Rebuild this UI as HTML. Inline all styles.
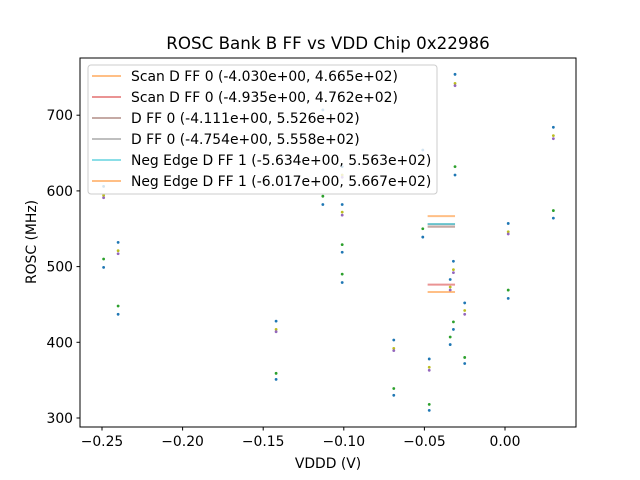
<!DOCTYPE html>
<html><head><meta charset="utf-8"><style>
body{margin:0;background:#fff;}
svg{display:block;font-family:"DejaVu Sans","Liberation Sans",sans-serif;}
</style></head><body>
<svg id="chart" width="640" height="480" xmlns="http://www.w3.org/2000/svg">
<rect width="640" height="480" fill="#fff"/>
<text x="328" y="49" font-size="16.7" text-anchor="middle">ROSC Bank B FF vs VDD Chip 0x22986</text>
<g id="plot"></g>
<rect x="80" y="58" width="496" height="369" fill="none" stroke="#000" stroke-width="1"/>
<g id="ticks"></g>
<text x="328" y="468" font-size="13.9" text-anchor="middle">VDDD (V)</text>
<text transform="translate(36,242) rotate(-90)" font-size="13.9" text-anchor="middle">ROSC (MHz)</text>
<g id="legend"></g>
</svg>
<script>
const xVals   = [-0.249,-0.240,-0.142,-0.113,-0.101,-0.101,-0.069,-0.051,-0.047,-0.034,-0.031,-0.032,-0.025,0.002,0.030];
const blueHi  = [606,532,428,707,632,582,403,654,378,483,754,507,452,557,684];
const oliveY  = [594,521,417,697,621,572,392,643,367,473,742,496,442,546,673];
const purpleY = [591,517,414,694,618,568,389,640,363,469,739,492,437,543,669];
const greenY  = [510,448,359,593,529,490,339,550,318,407,632,427,380,469,574];
const blueLo  = [499,437,351,582,519,479,330,539,310,397,621,417,372,458,564];
const fitLabels = ["Scan D FF 0 (-4.030e+00, 4.665e+02)","Scan D FF 0 (-4.935e+00, 4.762e+02)","D FF 0 (-4.111e+00, 5.526e+02)","D FF 0 (-4.754e+00, 5.558e+02)","Neg Edge D FF 1 (-5.634e+00, 5.563e+02)","Neg Edge D FF 1 (-6.017e+00, 5.667e+02)"];
const fitValues = [466.5,476.2,552.6,555.8,556.3,566.7];
const fitColors = ["#ff7f0e","#d62728","#8c564b","#7f7f7f","#17becf","#ff7f0e"];
const fitRange = [-0.048,-0.031];
const xTicks = [-0.25,-0.20,-0.15,-0.10,-0.05,0.00];
const xTickLabels = ["−0.25","−0.20","−0.15","−0.10","−0.05","0.00"];
const yTicks = [300,400,500,600,700];

const NS="http://www.w3.org/2000/svg";
const X=v=>505+v*1612;
const Y=v=>418-(v-300)*0.757;
function mk(tag,attrs,parent){const e=document.createElementNS(NS,tag);for(const k in attrs)e.setAttribute(k,attrs[k]);parent.appendChild(e);return e;}
const plot=document.getElementById('plot'),ticks=document.getElementById('ticks'),leg=document.getElementById('legend');

const series=[[blueHi,"#1f77b4","blue-hi"],[oliveY,"#bcbd22","olive"],[purpleY,"#9467bd","purple"],[greenY,"#2ca02c","green"],[blueLo,"#1f77b4","blue-lo"]];
series.forEach(([arr,col,nm])=>{
  arr.forEach((v,i)=>{
    if(v==null)return;
    const c=mk('circle',{cx:X(xVals[i]),cy:Y(v),r:1.4,fill:col},plot);
    
    
  });
});
fitValues.forEach((v,i)=>{
  const l=mk('line',{x1:X(fitRange[0]),x2:X(fitRange[1]),y1:Y(v),y2:Y(v),stroke:fitColors[i],'stroke-opacity':0.5,'stroke-width':2},plot);
  
  
});
xTicks.forEach((t,i)=>{
  const x=X(t);
  const tk=mk('line',{x1:x,x2:x,y1:427,y2:430.5,stroke:'#000'},ticks);
  
  
  const tx=mk('text',{x:x,y:446,'font-size':13.9,'text-anchor':'middle'},ticks);
  tx.textContent=xTickLabels[i];
  
  
});
yTicks.forEach(t=>{
  const y=Y(t);
  const tk=mk('line',{x1:76.5,x2:80,y1:y,y2:y,stroke:'#000'},ticks);
  
  
  const tx=mk('text',{x:73,y:y+5,'font-size':13.9,'text-anchor':'end'},ticks);
  tx.textContent=t;
  
  
});
mk('rect',{x:88,y:65,width:349,height:129,rx:3,fill:'#fff','fill-opacity':0.8,stroke:'#ccc'},leg);
fitLabels.forEach((s,i)=>{
  const y=76+i*21;
  const l=mk('line',{x1:92,x2:121,y1:y,y2:y,stroke:fitColors[i],'stroke-opacity':0.5,'stroke-width':2},leg);
  
  
  const t=mk('text',{x:131,y:y+5,'font-size':13.9},leg);
  t.textContent=s;
  
  
});
</script>
</body></html>
